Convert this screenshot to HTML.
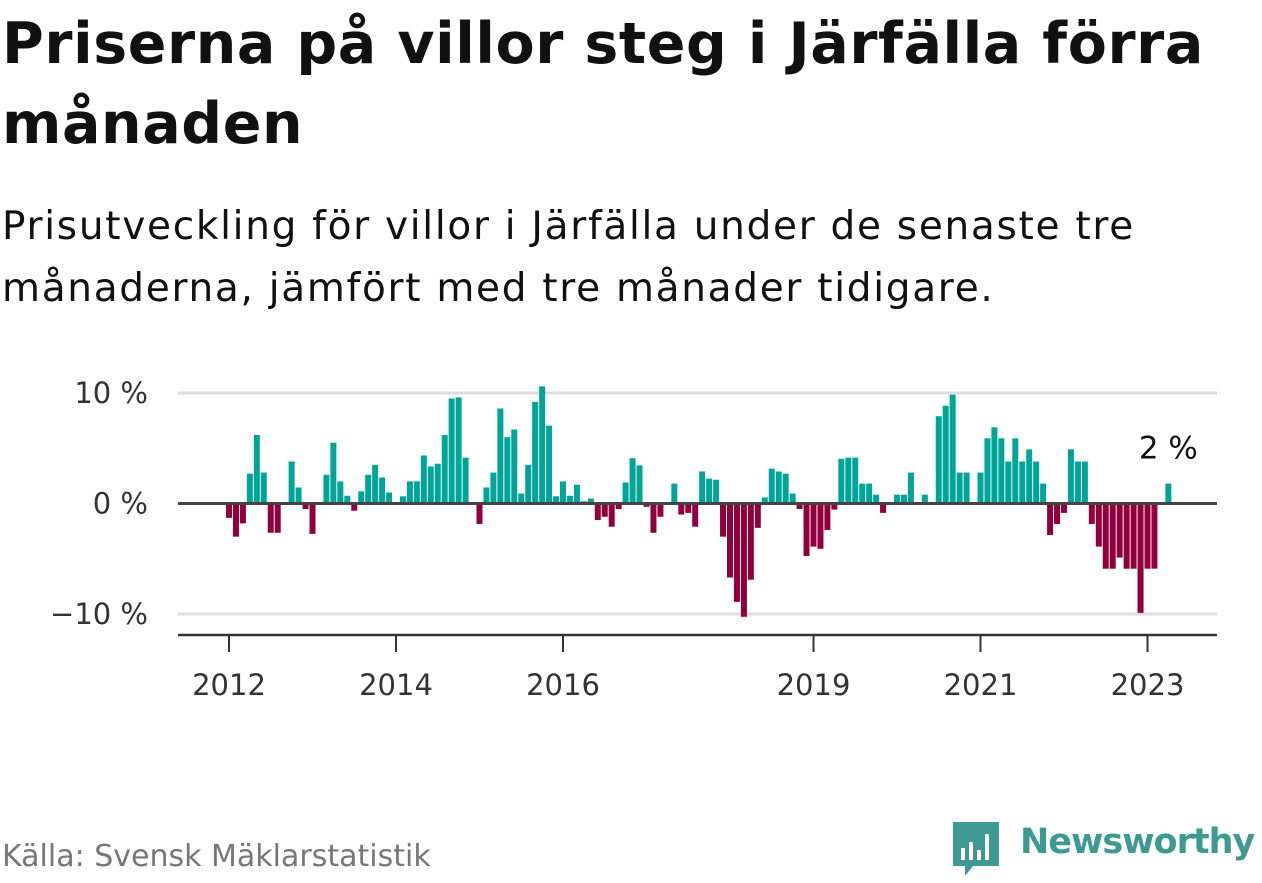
<!DOCTYPE html>
<html><head><meta charset="utf-8"><style>
body{margin:0;width:1262px;height:879px;background:#fff;font-family:"Liberation Sans","DejaVu Sans",sans-serif;overflow:hidden;position:relative}
h1{position:absolute;left:2px;top:4px;margin:0;font-size:57px;line-height:80px;font-weight:bold;color:#111;font-family:"DejaVu Sans",sans-serif;letter-spacing:0.6px;white-space:nowrap}
.sub{position:absolute;left:2px;top:196px;margin:0;font-size:39px;line-height:62px;color:#111;font-family:"DejaVu Sans",sans-serif;letter-spacing:1.7px;white-space:nowrap}
.src{position:absolute;left:2px;top:839px;font-size:30px;color:#777;font-family:"DejaVu Sans",sans-serif}
</style></head><body>
<h1>Priserna på villor steg i Järfälla förra<br>månaden</h1>
<p class="sub">Prisutveckling för villor i Järfälla under de senaste tre<br>månaderna, jämfört med tre månader tidigare.</p>
<svg id="chart" width="1262" height="879" style="position:absolute;left:0;top:0" font-family="DejaVu Sans, sans-serif"></svg>
<div class="src">Källa: Svensk Mäklarstatistik</div>
<div style="position:absolute;left:951px;top:820px;width:50px;height:58px">
<svg width="50" height="58"><path d="M2 2h46v44H22l-8 10v-10H2z" fill="#3d9a92"/><rect x="10" y="28" width="4" height="12" fill="#fff"/><rect x="18" y="22" width="4" height="18" fill="#fff"/><rect x="26" y="30" width="4" height="10" fill="#fff"/><rect x="34" y="14" width="4" height="26" fill="#fff"/></svg></div>
<div style="position:absolute;left:1020px;top:822px;font-size:35px;font-weight:bold;color:#3d9a92;font-family:'DejaVu Sans',sans-serif;letter-spacing:-1px">Newsworthy</div>
<script>
const startYear = 2012;
const values = [-1.3,-3.0,-1.8,2.7,6.2,2.8,-2.65,-2.65,0,3.8,1.45,-0.5,
-2.75,0,2.6,5.5,2.0,0.7,-0.65,1.1,2.6,3.5,2.35,1.0,
0,0.65,2.0,2.0,4.35,3.35,3.6,6.2,9.5,9.6,4.15,0.1,
-1.85,1.45,2.8,8.6,6.0,6.7,0.9,3.5,9.2,10.6,7.05,0.65,
2.0,0.7,1.7,0.2,0.45,-1.5,-1.2,-2.1,-0.5,1.9,4.1,3.45,
-0.3,-2.65,-1.2,0.1,1.8,-1.0,-0.85,-2.1,2.9,2.25,2.15,-3.0,
-6.7,-8.9,-10.25,-6.9,-2.2,0.55,3.15,2.9,2.7,0.9,-0.5,-4.75,
-3.9,-4.1,-2.4,-0.55,4.05,4.15,4.15,1.8,1.8,0.8,-0.85,0,
0.8,0.8,2.8,0,0.8,0,7.9,8.85,9.85,2.8,2.8,0,
2.8,5.9,6.9,5.9,3.8,5.9,3.8,4.9,3.8,1.8,-2.85,-1.85,
-0.85,4.9,3.8,3.8,-1.85,-3.9,-5.9,-5.9,-4.9,-5.9,-5.9,-9.9,
-5.9,-5.9,0,1.8];
const yTicks = [10,0,-10];
const yTickLabels = ["10 %","0 %","−10 %"];
const xTicks = [2012,2014,2016,2019,2021,2023];
const lastLabel = "2 %";

const NS="http://www.w3.org/2000/svg";
const svg=document.getElementById('chart');
const X0=229, PXY=83.5, Y0=503.5, PXV=11.05, L=178, R=1217;
const x=t=>X0+(t-startYear)*PXY;
const y=v=>Y0-v*PXV;
function mk(tag,attrs){const e=document.createElementNS(NS,tag);for(const k in attrs)e.setAttribute(k,attrs[k]);svg.appendChild(e);return e;}
yTicks.forEach((v,i)=>{
  if(v!==0){const g=mk('line',{x1:L,x2:R,y1:y(v),y2:y(v),stroke:'#ddd','stroke-width':3});
  
  }
  const t=mk('text',{x:148,y:y(v)+10,'text-anchor':'end','font-size':29,fill:'#333'});
  t.textContent=yTickLabels[i];
  
  
});
values.forEach((v,i)=>{
  const cx=x(startYear+i/12);
  const top=v>=0?y(v):Y0, h=Math.abs(v)*PXV;
  const b=mk('rect',{x:cx-3,y:top,width:6,height:h,fill:v>=0?'#00a598':'#91003c'});
  
  
});
const z=mk('line',{x1:L,x2:R,y1:Y0,y2:Y0,stroke:'#444','stroke-width':3});


const ax=mk('line',{x1:L,x2:R,y1:635,y2:635,stroke:'#333','stroke-width':2.5});


xTicks.forEach(yr=>{
  const tk=mk('line',{x1:x(yr),x2:x(yr),y1:635,y2:652,stroke:'#333','stroke-width':2});
  
  
  const t=mk('text',{x:x(yr),y:695,'text-anchor':'middle','font-size':29,fill:'#333'});
  t.textContent=yr;
  
  
});
const li=values.length-1;
const lab=mk('text',{x:x(startYear+li/12),y:y(values[li])-25,'text-anchor':'middle','font-size':31,fill:'#111'});
lab.textContent=lastLabel;


</script>
</body></html>
